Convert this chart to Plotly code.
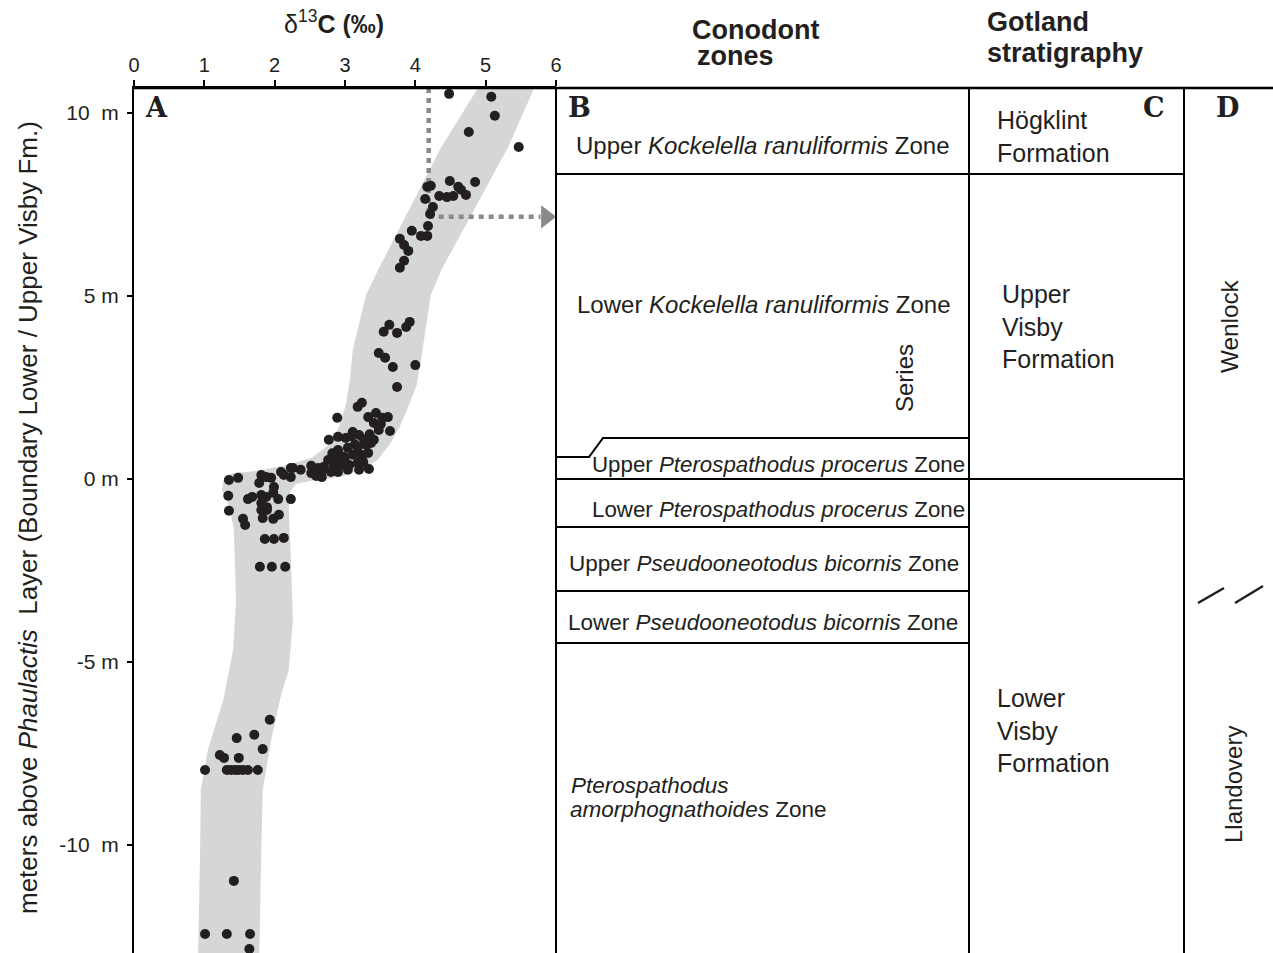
import plotly.graph_objects as go

# ---------------- data ----------------
# δ13C (‰) of samples
d13c = [4.48, 5.08, 5.13, 4.76, 5.47, 4.49, 4.85, 4.17, 4.22, 4.61, 4.65, 4.72, 4.34, 4.45, 4.54,
        4.14, 4.25, 4.21, 4.18, 3.95, 4.08, 4.17, 3.78, 3.84, 3.90, 3.84, 3.78,
        3.63, 3.55, 3.74, 3.92, 3.87, 3.48, 3.57, 3.68, 4.00, 3.74,
        3.24, 3.18, 2.89, 3.33, 3.44, 3.53, 3.61, 3.41, 3.51, 3.48, 3.64, 3.11, 2.77, 2.90, 3.01,
        3.09, 3.20, 3.27, 2.90, 3.04, 3.18, 3.30, 3.37, 3.41, 2.76, 2.87, 2.99, 3.11, 3.23, 3.33,
        2.52, 2.62, 2.70, 2.84, 2.94, 3.06, 3.18, 3.26, 2.37, 2.52, 2.66, 2.80, 2.90, 3.04, 3.20,
        3.34, 2.59, 2.67, 2.26, 3.14, 2.95, 3.25, 2.82, 3.00, 3.35,
        1.35, 1.48, 1.81, 1.88, 1.95, 1.78, 2.09, 2.23, 2.23, 2.13, 1.99, 1.34, 1.62, 1.68, 1.81,
        1.88, 1.98, 2.05, 2.23, 1.81, 1.89, 1.81, 1.89, 1.35, 1.55, 1.58, 1.83, 1.98, 2.06, 1.86,
        1.99, 2.13, 1.79, 1.96, 2.15,
        1.93, 1.71, 1.46, 1.83, 1.22, 1.28, 1.49, 1.01, 1.32, 1.38, 1.44, 1.49, 1.55, 1.62, 1.76,
        1.42, 1.01, 1.32, 1.65, 1.64]
# height (m above Phaulactis Layer)
height_m = [10.52, 10.44, 9.92, 9.48, 9.07, 8.14, 8.11, 7.98, 8.01, 7.98, 7.90, 7.76, 7.73, 7.70, 7.73,
            7.65, 7.43, 7.24, 6.91, 6.78, 6.64, 6.64, 6.56, 6.39, 6.23, 5.96, 5.77,
            4.21, 4.02, 3.99, 4.29, 4.15, 3.44, 3.31, 3.06, 3.11, 2.51,
            2.08, 1.97, 1.67, 1.69, 1.80, 1.67, 1.69, 1.53, 1.50, 1.34, 1.31, 1.28, 1.07, 1.15, 1.12,
            1.17, 1.20, 1.07, 0.79, 0.85, 0.87, 0.93, 0.98, 1.07, 0.52, 0.57, 0.60, 0.66, 0.66, 0.71,
            0.36, 0.30, 0.33, 0.33, 0.38, 0.38, 0.44, 0.44, 0.25, 0.16, 0.16, 0.19, 0.19, 0.25, 0.25,
            0.27, 0.08, 0.05, 0.30, 0.95, 0.62, 0.50, 0.70, 0.48, 1.22,
            -0.03, 0.03, 0.11, 0.05, 0.03, -0.11, 0.19, 0.30, 0.05, 0.11, -0.22, -0.46, -0.55, -0.49, -0.44,
            -0.49, -0.38, -0.55, -0.55, -0.66, -0.77, -0.85, -0.85, -0.87, -1.09, -1.26, -1.07, -1.09, -0.98, -1.64,
            -1.64, -1.61, -2.40, -2.40, -2.40,
            -6.58, -6.99, -7.08, -7.38, -7.54, -7.62, -7.62, -7.95, -7.95, -7.95, -7.95, -7.95, -7.95, -7.95, -7.95,
            -10.98, -12.43, -12.43, -12.43, -12.84]

# grey trend band (left / right edges)
band_left_x = [4.93, 4.89, 4.37, 3.98, 3.47, 3.30, 3.11, 3.07, 3.01, 2.91, 2.77, 2.52, 2.13, 1.73,
               1.41, 1.28, 1.25, 1.35, 1.42, 1.45, 1.41, 1.27, 1.05, 0.95, 0.94, 0.91]
band_left_y = [11.04, 10.68, 9.07, 7.62, 5.71, 5.03, 3.52, 2.70, 2.02, 1.39, 0.93, 0.57, 0.36, 0.22,
               0.16, 0.05, -0.30, -0.71, -1.39, -3.31, -4.67, -6.04, -7.40, -8.50, -10.14, -13.14]
band_right_x = [5.79, 5.69, 5.32, 4.91, 4.37, 4.22, 4.14, 4.08, 4.02, 3.91, 3.77, 3.63, 3.46, 3.23,
                2.94, 2.52, 2.30, 2.22, 2.20, 2.23, 2.26, 2.20, 2.09, 1.95, 1.83, 1.81, 1.78]
band_right_y = [11.04, 10.68, 9.07, 7.62, 5.71, 5.03, 4.07, 3.25, 2.57, 2.02, 1.39, 0.93, 0.52, 0.25,
                0.05, -0.05, -0.14, -0.36, -0.85, -2.21, -3.85, -5.22, -5.90, -7.13, -8.50, -10.14, -13.14]

# correlation marker (dotted arrow)
marker_d13c = 4.19
marker_height = 7.16
arrow_end_d13c = 5.78

y_tick_vals = [10, 5, 0, -5, -10]
y_tick_text = ["10\u00a0\u00a0m", "5 m", "0 m", "-5 m", "-10\u00a0\u00a0m"]
x_tick_vals = [0, 1, 2, 3, 4, 5, 6]

# conodont zone boundaries (m)
zone_bounds_B = [8.33, -1.31, -3.06, -4.48]
zone_step_low, zone_step_high = 0.60, 1.12
series_boundary = 0.0
gotland_bounds = [8.33, 0.0]
y_range = [-12.95, 10.68]

# ---------------- layout helpers ----------------
W_REF, H = 1273, 953
L_REF, T = 133, 88
W = 1280                      # page width actually laid out by the browser
L = round(L_REF * W / W_REF, 1)


def px(x):
    return (x - L_REF) / (W_REF - L_REF)


def py(y):
    return (H - y) / (H - T)


FONT = "Liberation Sans, Arial, sans-serif"
SERIF = "DejaVu Serif, serif"

fig = go.Figure()

band_x = band_left_x + band_right_x[::-1]
band_y = band_left_y + band_right_y[::-1]
fig.add_trace(go.Scatter(x=band_x, y=band_y, fill="toself", fillcolor="#d5d6d8",
                         line=dict(width=0), mode="lines", hoverinfo="skip", showlegend=False))

# dotted marker lines
fig.add_trace(go.Scatter(x=[marker_d13c, marker_d13c], y=[y_range[1], marker_height],
                         mode="lines", line=dict(color="#8a8a8a", width=4.5, dash="5px,5px"),
                         showlegend=False, hoverinfo="skip"))
fig.add_trace(go.Scatter(x=[marker_d13c, arrow_end_d13c], y=[marker_height, marker_height],
                         mode="lines", line=dict(color="#8a8a8a", width=4.5, dash="5px,5px"),
                         showlegend=False, hoverinfo="skip"))
fig.add_trace(go.Scatter(x=[arrow_end_d13c + 0.08], y=[marker_height], mode="markers",
                         marker=dict(symbol="triangle-right", size=20, color="#8a8a8a"),
                         showlegend=False, hoverinfo="skip", cliponaxis=False))

fig.add_trace(go.Scatter(x=d13c, y=height_m, mode="markers",
                         marker=dict(size=10, color="#231f20"), showlegend=False))

shapes = []
line_k = dict(color="black", width=2)
# top border across all panels
shapes.append(dict(type="line", xref="paper", yref="paper", x0=0, x1=1, y0=1, y1=1,
                   line=dict(color="black", width=2.5)))
for xb in [555, 968, 1183]:
    shapes.append(dict(type="line", xref="paper", yref="paper", x0=px(xb), x1=px(xb), y0=0, y1=1,
                       line=line_k))
for yb in zone_bounds_B:
    shapes.append(dict(type="line", xref="paper", yref="y", x0=px(555), x1=px(968), y0=yb, y1=yb,
                       line=line_k))
# stepped boundary (Upper P. procerus)
shapes.append(dict(type="path", xref="paper", yref="y", line=line_k,
                   path=f"M {px(555)},{zone_step_low} L {px(588)},{zone_step_low} "
                        f"L {px(602)},{zone_step_high} L {px(968)},{zone_step_high}"))
shapes.append(dict(type="line", xref="paper", yref="y", x0=px(555), x1=px(1183),
                   y0=series_boundary, y1=series_boundary, line=line_k))
for yb in gotland_bounds:
    shapes.append(dict(type="line", xref="paper", yref="y", x0=px(968), x1=px(1183), y0=yb, y1=yb,
                       line=line_k))
# break marks in panel D
shapes.append(dict(type="line", xref="paper", yref="paper", x0=px(1197), x1=px(1223),
                   y0=py(603), y1=py(588), line=dict(color="#231f20", width=2.5)))
shapes.append(dict(type="line", xref="paper", yref="paper", x0=px(1234), x1=px(1262),
                   y0=py(603), y1=py(586), line=dict(color="#231f20", width=2.5)))

ann = []


def text(x, y, s, size=22, anchor="center", family=FONT, angle=0, color="#231f20"):
    ann.append(dict(x=px(x), y=py(y), xref="paper", yref="paper", text=s, showarrow=False,
                    xanchor=anchor, yanchor="middle", textangle=angle,
                    font=dict(size=size, family=family, color=color), align="left"))


text(333, 22, "δ<sup>13</sup><b>C (‰)</b>", size=25)
text(689, 30, "<b>Conodont</b>", size=27, anchor="left")
text(694, 56, "<b>zones</b>", size=27, anchor="left")
text(984, 22, "<b>Gotland</b>", size=27, anchor="left")
text(984, 53, "<b>stratigraphy</b>", size=27, anchor="left")

for lx, lt in [(155, "A"), (578, "B"), (1153, "C"), (1226, "D")]:
    text(lx, 107, f"<b>{lt}</b>", size=27, family=SERIF)

text(762, 145, "Upper <i>Kockelella ranuliformis</i> Zone", size=24)
text(763, 304, "Lower <i>Kockelella ranuliformis</i> Zone", size=24)
text(903, 378, "Series", size=24, angle=-90)
text(777, 465, "Upper <i>Pterospathodus procerus</i> Zone", size=22.3)
text(777, 509, "Lower <i>Pterospathodus procerus</i> Zone", size=22.3)
text(763, 563, "Upper <i>Pseudooneotodus bicornis</i> Zone", size=22.5)
text(762, 622, "Lower <i>Pseudooneotodus bicornis</i> Zone", size=22.5)
text(568, 785, "<i>Pterospathodus</i>", size=22.5, anchor="left")
text(567, 809, "<i>amorphognathoides</i> Zone", size=22.5, anchor="left")

text(994, 120, "Högklint", size=25, anchor="left")
text(994, 153, "Formation", size=25, anchor="left")
text(999, 294, "Upper", size=25, anchor="left")
text(999, 327, "Visby", size=25, anchor="left")
text(999, 359, "Formation", size=25, anchor="left")
text(994, 698, "Lower", size=25, anchor="left")
text(994, 731, "Visby", size=25, anchor="left")
text(994, 763, "Formation", size=25, anchor="left")

text(1228, 326, "Wenlock", size=24.3, angle=-90)
text(1232, 785, "Llandovery", size=24, angle=-90)

text(27, 518, "meters above <i>Phaulactis</i>\u00a0 Layer (Boundary Lower / Upper Visby Fm.)",
     size=26, angle=-90)

fig.update_layout(
    width=W, height=H, autosize=False,
    margin=dict(l=L, r=0, t=T, b=0, pad=0),
    paper_bgcolor="white", plot_bgcolor="white",
    shapes=shapes, annotations=ann,
    xaxis=dict(domain=[0, px(555)], range=[0, 6], side="top", tickvals=x_tick_vals,
               ticks="outside", ticklen=6, tickwidth=1.5, tickcolor="black",
               showline=True, linecolor="black", linewidth=2, showgrid=False, zeroline=False,
               tickfont=dict(size=20, family=FONT, color="#231f20")),
    yaxis=dict(domain=[0, 1], range=y_range, tickvals=y_tick_vals, ticktext=y_tick_text,
               ticks="outside", ticklen=5, tickwidth=1.5, tickcolor="black",
               ticklabelstandoff=4,
               showline=True, linecolor="black", linewidth=2, showgrid=False, zeroline=False,
               tickfont=dict(size=21, family=FONT, color="#231f20")),
    font=dict(family=FONT, color="#231f20"),
)

fig.write_html("out.html", config={"responsive": False, "displayModeBar": False},
               post_script="document.body.style.margin='0px';document.body.style.overflow='hidden';")
